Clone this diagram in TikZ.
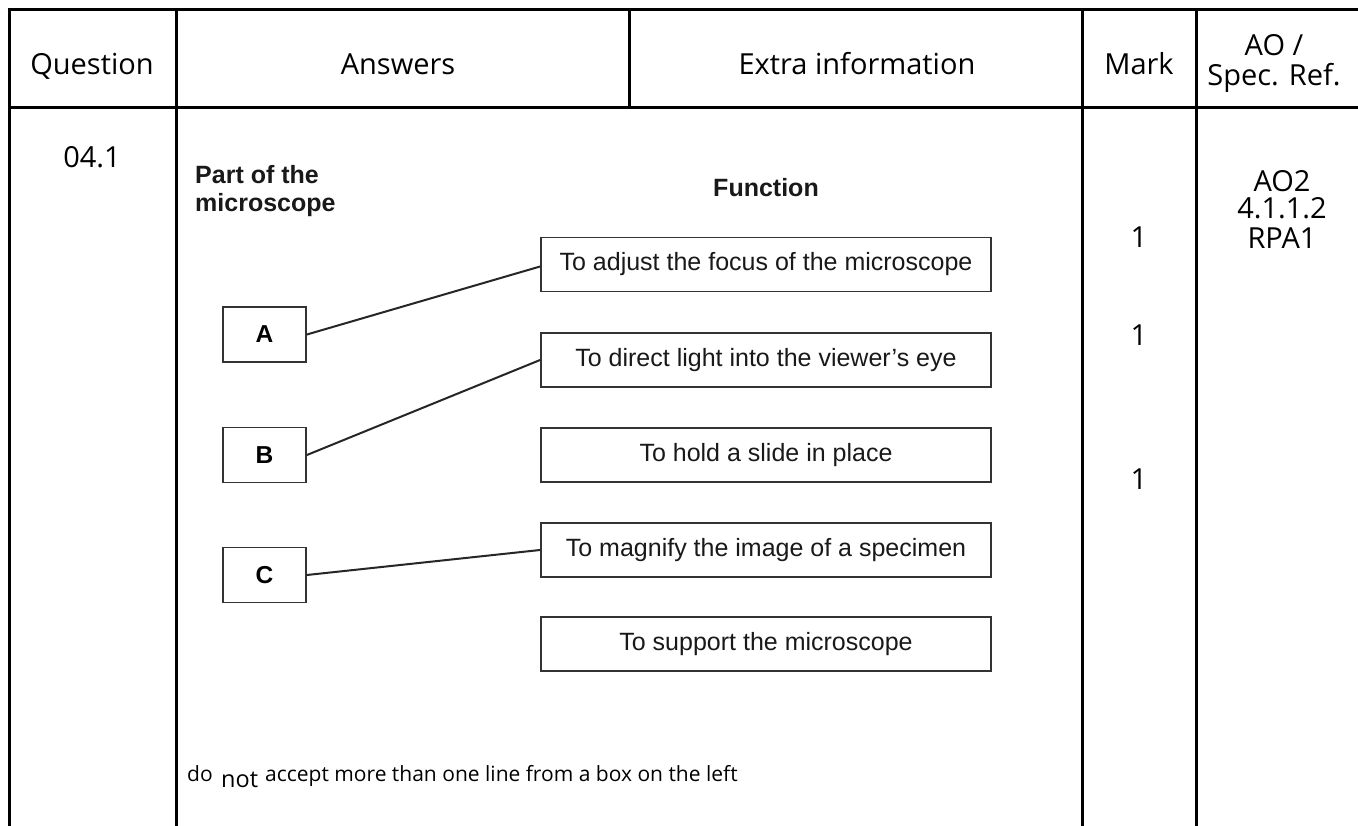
\documentclass[tikz,border=0pt]{standalone}
\usepackage{fontspec}
\setmainfont{Open Sans}
\newfontfamily\arialf{Liberation Sans}
\begin{document}
\begin{tikzpicture}[x=1pt,y=-1pt,
  rule/.style={line width=3pt, black},
  hdr/.style={anchor=base, inner sep=0pt, font=\fontsize{29}{32}\selectfont},
  note/.style={anchor=base west, inner sep=0pt, font=\fontsize{21}{26}\selectfont},
  part/.style={draw=black!80, line width=1.8pt, minimum width=83pt, minimum height=55pt, inner sep=0pt, text height=17pt, text depth=0pt, font=\arialf\bfseries\fontsize{24.5}{30}\selectfont},
  func/.style={draw=black!80, line width=1.8pt, minimum width=450pt, minimum height=54pt, inner sep=0pt, text height=17.5pt, text depth=5pt, text=black!90, font=\arialf\fontsize{25}{30}\selectfont},
  dhead/.style={inner sep=0pt, text=black!90, font=\arialf\bfseries\fontsize{25}{30}\selectfont},
  link/.style={line width=2pt, black!85}
]
\useasboundingbox (0,0) rectangle (1358,826);
\fill[white] (0,0) rectangle (1358,826);

% table rules
\draw[rule] (7.5,10) -- (1358,10);
\draw[rule] (7.5,108) -- (1358,108);
\draw[rule] (9,10) -- (9,826);
\draw[rule] (176,10) -- (176,826);
\draw[rule] (629,10) -- (629,108);
\draw[rule] (1082,10) -- (1082,826);
\draw[rule] (1196,10) -- (1196,826);

% header
\node[hdr] (hq) at (92,75) {Question};
\node[hdr] (ha) at (398,75) {Answers};
\node[hdr] (he) at (857,75) {Extra information};
\node[hdr] (hm) at (1139,75) {Mark};
\node[hdr] (hao) at (1274,56) {AO /};
\node[hdr] (hsr) at (1274,86) {Spec. Ref.};

% body cells
\node[hdr] (qn) at (92,168) {04.1};
\node[hdr] (m1) at (1139,248) {1};
\node[hdr] (m2) at (1139,345) {1};
\node[hdr] (m3) at (1139,489) {1};
\node[hdr] (ao1) at (1282,192) {AO2};
\node[hdr] (ao2) at (1282,219) {4.1.1.2};
\node[hdr] (ao3) at (1282,249) {RPA1};

% matching diagram
\node[dhead, anchor=base west] (ph1) at (195,184) {Part of the};
\node[dhead, anchor=base west] (ph2) at (195,212) {microscope};
\node[dhead, anchor=base] (fh) at (766,197) {Function};

\node[part] (A) at (264.5,334.5) {A};
\node[part] (B) at (264.5,455) {B};
\node[part] (C) at (264.5,575) {C};

\node[func] (F1) at (766,264.5) {To adjust the focus of the microscope};
\node[func] (F2) at (766,360) {To direct light into the viewer’s eye};
\node[func] (F3) at (766,455) {To hold a slide in place};
\node[func] (F4) at (766,550) {To magnify the image of a specimen};
\node[func] (F5) at (766,644) {To support the microscope};

\draw[link] (A.east) -- ([yshift=-2pt]F1.west);
\draw[link] (B.east) -- (F2.west);
\draw[link] (C.east) -- (F4.west);

% note
\node[note] (n1) at (187,781) {do};
\node[note, font=\fontsize{23.5}{28}\selectfont] (n2) at (221,787) {not};
\node[note] (n3) at (265,781) {accept more than one line from a box on the left};
\end{tikzpicture}
\end{document}
